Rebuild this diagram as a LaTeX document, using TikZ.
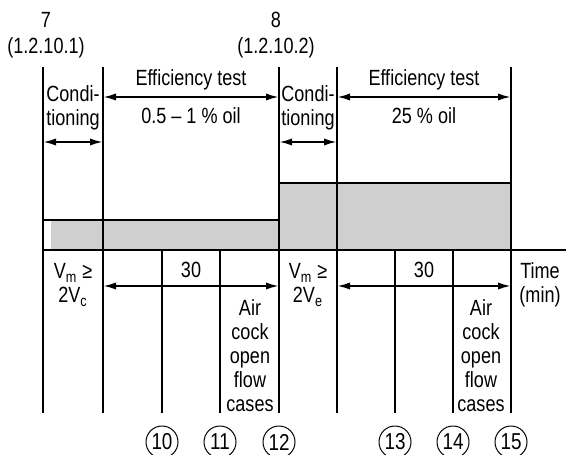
\documentclass[tikz,border=0pt]{standalone}
\usepackage{fontspec}
\setmainfont{Liberation Sans}[FakeStretch=0.82]
\usetikzlibrary{arrows.meta}
\begin{document}
\begin{tikzpicture}[x=0.5pt, y=-0.5pt, >={Latex[length=6.5pt,width=3.6pt]},
  lbl/.style={font=\fontsize{11}{12}\selectfont, inner sep=0pt, align=center},
  stepnum/.style={draw, circle, line width=0.5pt, minimum size=16pt, inner sep=0pt,
    font=\fontsize{11.5}{12}\selectfont},
  tline/.style={line width=1pt}]
  \useasboundingbox (0,0) rectangle (566,454);

  % Banda gris (nivel de aceite)
  \fill[gray!38] (51,220) rectangle (279,250);
  \fill[gray!38] (279,183) rectangle (511,250);
  \draw[tline] (43,220) -- (279,220);
  \draw[tline] (279,183) -- (511,183);

  % Eje de tiempo
  \draw[tline] (43,250) -- (566,250);

  % Lineas verticales principales
  \draw[tline] (43,67)  -- (43,413);
  \draw[tline] (103,67) -- (103,413);
  \draw[tline] (279,67) -- (279,413);
  \draw[tline] (337,67) -- (337,413);
  \draw[tline] (511,67) -- (511,413);

  % Lineas verticales inferiores
  \draw[tline] (162,250) -- (162,413);
  \draw[tline] (220,250) -- (220,413);
  \draw[tline] (395,250) -- (395,413);
  \draw[tline] (453,250) -- (453,413);

  % Etiquetas superiores
  \node[lbl, font=\fontsize{11}{13}\selectfont] (p7) at (46,35) {7\\(1.2.10.1)};
  \node[lbl, font=\fontsize{11}{13}\selectfont] (p8) at (276,35) {8\\(1.2.10.2)};

  % Acondicionamiento
  \node[lbl] (cond1) at (73,108) {Condi-\\tioning};
  \node[lbl] (cond2) at (308,108) {Condi-\\tioning};
  \coordinate (c1a) at (43,142);  \coordinate (c1b) at (103,142);
  \coordinate (c2a) at (279,142); \coordinate (c2b) at (337,142);
  \draw[<->, tline] (c1a) -- (c1b);
  \draw[<->, tline] (c2a) -- (c2b);

  % Ensayos de eficiencia
  \node[lbl] (eff1) at (191,80) {Efficiency test};
  \node[lbl] (oil1) at (191,116) {0.5 -- 1 \% oil};
  \node[lbl] (eff2) at (424,80) {Efficiency test};
  \node[lbl] (oil2) at (424,116) {25 \% oil};
  \coordinate (e1a) at (103,97); \coordinate (e1b) at (279,97);
  \coordinate (e2a) at (337,97); \coordinate (e2b) at (511,97);
  \draw[<->, tline] (e1a) -- (e1b);
  \draw[<->, tline] (e2a) -- (e2b);

  % Condicion de volumen
  \node[lbl] (vm1) at (73,285)  {V\textsubscript{m} ≥\\2V\textsubscript{c}};
  \node[lbl] (vm2) at (308,285) {V\textsubscript{m} ≥\\2V\textsubscript{e}};

  % Periodos de 30 min
  \node[lbl] (t1) at (191,270) {30};
  \node[lbl] (t2) at (424,270) {30};
  \coordinate (m1a) at (103,286); \coordinate (m1b) at (279,286);
  \coordinate (m2a) at (337,286); \coordinate (m2b) at (511,286);
  \draw[<->, tline] (m1a) -- (m1b);
  \draw[<->, tline] (m2a) -- (m2b);

  % Grifo de aire
  \node[lbl] (air1) at (250,356) {Air\\cock\\open\\flow\\cases};
  \node[lbl] (air2) at (481,356) {Air\\cock\\open\\flow\\cases};

  % Eje
  \node[lbl] (time) at (540,285) {Time\\(min)};

  % Pasos numerados
  \node[stepnum] (s10) at (162,442) {10};
  \node[stepnum] (s11) at (220,442) {11};
  \node[stepnum] (s12) at (279,442) {12};
  \node[stepnum] (s13) at (395,442) {13};
  \node[stepnum] (s14) at (453,442) {14};
  \node[stepnum] (s15) at (511,442) {15};
\end{tikzpicture}
\end{document}
